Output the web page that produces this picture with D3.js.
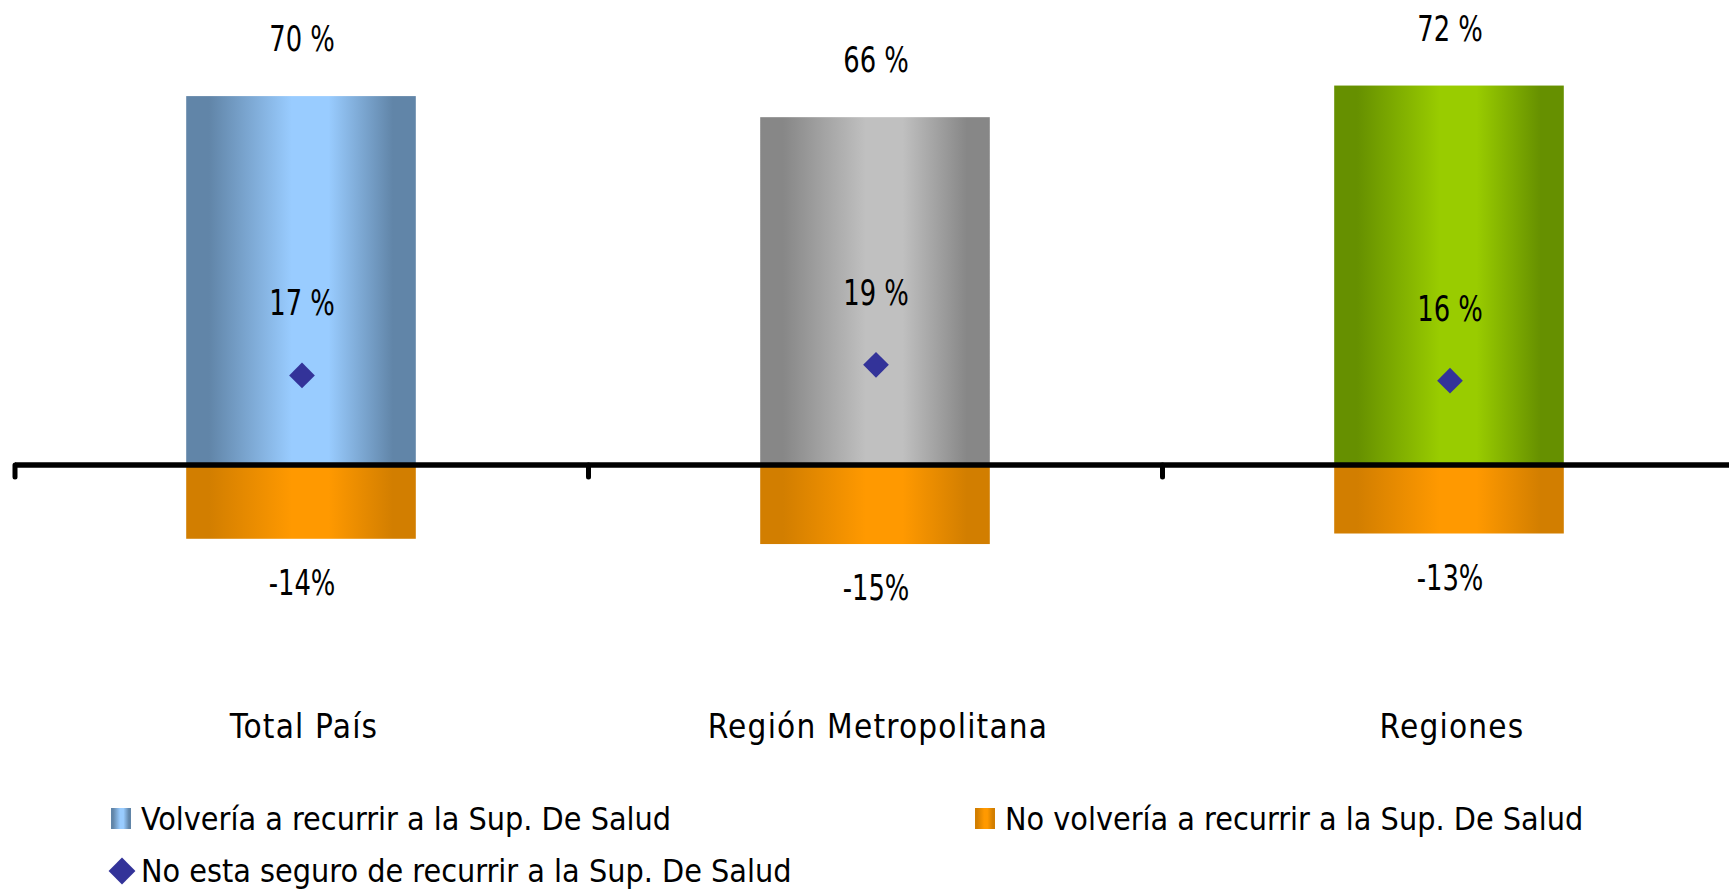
<!DOCTYPE html>
<html>

<head>
    <meta charset="utf-8">
    <title>Sup. De Salud</title>
    <script src="https://cdn.jsdelivr.net/npm/d3@7/dist/d3.min.js" charset="utf-8"></script>
    <style>
        body {
            margin: 0;
            background: #fff;
        }

        text {
            font-family: "DejaVu Sans Condensed", "DejaVu Sans", sans-serif;
            fill: #000;
        }
    </style>
</head>

<body>
    <script>
        // data
        const categories = ["Total País", "Región Metropolitana", "Regiones"];
        const volveria = [70, 66, 72];
        const noVolveria = [-14, -15, -13];
        const noSeguro = [17, 19, 16];
        const legendLabels = [
            "Volvería a recurrir a la Sup. De Salud",
            "No volvería a recurrir a la Sup. De Salud",
            "No esta seguro de recurrir a la Sup. De Salud"
        ];

        const width = 1729;
        const height = 889;

        const svg = d3.select('body')
            .append('svg')
            .attr('width', width)
            .attr('height', height)

        // bar gradients, dark at the edges and light in the middle
        const defs = svg.append('defs')
        const gradients = [
            { id: 'gBlue', dark: '#6185a8', light: '#99ccff' },
            { id: 'gGray', dark: '#878787', light: '#c0c0c0' },
            { id: 'gGreen', dark: '#669000', light: '#99cc00' },
            { id: 'gOrange', dark: '#d27e00', light: '#ff9900' }
        ]
        gradients.forEach(function (g) {
            const lg = defs.append('linearGradient')
                .attr('id', g.id)
                .attr('x1', '0%').attr('x2', '100%')
                .attr('y1', '0%').attr('y2', '0%')
            lg.append('stop').attr('offset', '0%').attr('stop-color', g.dark)
            lg.append('stop').attr('offset', '10%').attr('stop-color', g.dark)
            lg.append('stop').attr('offset', '46%').attr('stop-color', g.light)
            lg.append('stop').attr('offset', '62%').attr('stop-color', g.light)
            lg.append('stop').attr('offset', '90%').attr('stop-color', g.dark)
            lg.append('stop').attr('offset', '100%').attr('stop-color', g.dark)
        })
        const barFills = ['url(#gBlue)', 'url(#gGray)', 'url(#gGreen)'];

        const x = d3.scaleBand()
            .domain(categories)
            .range([15, 1737])
            .paddingInner(0.6)
            .paddingOuter(0.3)

        const y = d3.scaleLinear()
            .domain([0, 100])
            .range([465, 465 - 527])

        const g = svg.append('g')

        // positive bars
        g.selectAll('rect.pos')
            .data(categories)
            .enter()
            .append('rect')
            .attr('class', 'pos')
            .attr('x', d => x(d) - 1)
            .attr('width', x.bandwidth())
            .attr('y', (d, i) => y(volveria[i]))
            .attr('height', (d, i) => y(0) - y(volveria[i]))
            .attr('fill', (d, i) => barFills[i])

        // negative bars
        g.selectAll('rect.neg')
            .data(categories)
            .enter()
            .append('rect')
            .attr('class', 'neg')
            .attr('x', d => x(d) - 1)
            .attr('width', x.bandwidth())
            .attr('y', y(0))
            .attr('height', (d, i) => y(noVolveria[i]) - y(0))
            .attr('fill', 'url(#gOrange)')

        // axis line with ticks between categories
        const axis = d3.axisBottom(x).tickSize(0).tickFormat('')
        const ax = svg.append('g')
            .attr('transform', 'translate(0,' + y(0) + ')')
            .call(axis)
        ax.select('.domain').remove()
        ax.append('line')
            .attr('x1', 15).attr('x2', width)
            .attr('stroke', '#000').attr('stroke-width', 5.5)
        const tickXs = categories.map(d => x(d) - x.step() * x.paddingInner() / 2 - 0.5)
        tickXs[0] = 15
        ax.selectAll('line.tk')
            .data(tickXs)
            .enter()
            .append('line')
            .attr('class', 'tk')
            .attr('x1', d => d).attr('x2', d => d)
            .attr('y1', 0).attr('y2', 12)
            .attr('stroke', '#000').attr('stroke-width', 5)
            .attr('stroke-linecap', 'round')

        // diamonds
        const diamond = d3.symbol().type(d3.symbolSquare).size(330)
        g.selectAll('path.dia')
            .data(categories)
            .enter()
            .append('path')
            .attr('class', 'dia')
            .attr('d', diamond)
            .attr('fill', '#333399')
            .attr('transform', (d, i) => 'translate(' + (x(d) + x.bandwidth() / 2) + ',' + y(noSeguro[i]) + ') rotate(45)')

        // value labels, squeezed horizontally like the narrow original face
        const cx = d => x(d) + x.bandwidth() / 2
        function valueLabels(cls, values, dy, fmt) {
            g.selectAll('text.' + cls)
                .data(categories)
                .enter()
                .append('text')
                .attr('class', cls)
                .attr('transform', (d, i) => 'translate(' + cx(d) + ',' + (y(values[i]) + dy) + ') scale(0.82,1)')
                .attr('text-anchor', 'middle')
                .style('font-size', '35px')
                .text((d, i) => fmt(values[i]))
        }
        valueLabels('lpos', volveria, -45, v => v + ' %')
        valueLabels('lmid', noSeguro, -60, v => v + ' %')
        valueLabels('lneg', noVolveria, 56, v => v + '%')

        // category labels
        g.selectAll('text.cat')
            .data(categories)
            .enter()
            .append('text')
            .attr('x', d => cx(d) + 2)
            .attr('y', 738)
            .attr('text-anchor', 'middle')
            .style('font-size', '33px')
            .style('letter-spacing', '1.2px')
            .text(d => d)

        // legend
        const legend = svg.append('g')
        legend.append('rect')
            .attr('x', 111).attr('y', 808).attr('width', 20).attr('height', 21)
            .attr('fill', 'url(#gBlue)')
        legend.append('rect')
            .attr('x', 975).attr('y', 808).attr('width', 20).attr('height', 21)
            .attr('fill', 'url(#gOrange)')
        legend.append('path')
            .attr('d', d3.symbol().type(d3.symbolSquare).size(360))
            .attr('fill', '#333399')
            .attr('transform', 'translate(122,871) rotate(45)')
        const legendPos = [[141, 830], [1005, 830], [141, 882]]
        legend.selectAll('text')
            .data(legendLabels)
            .enter()
            .append('text')
            .attr('x', (d, i) => legendPos[i][0])
            .attr('y', (d, i) => legendPos[i][1])
            .style('font-size', '32px')
            .text(d => d)
    </script>
</body>

</html>
